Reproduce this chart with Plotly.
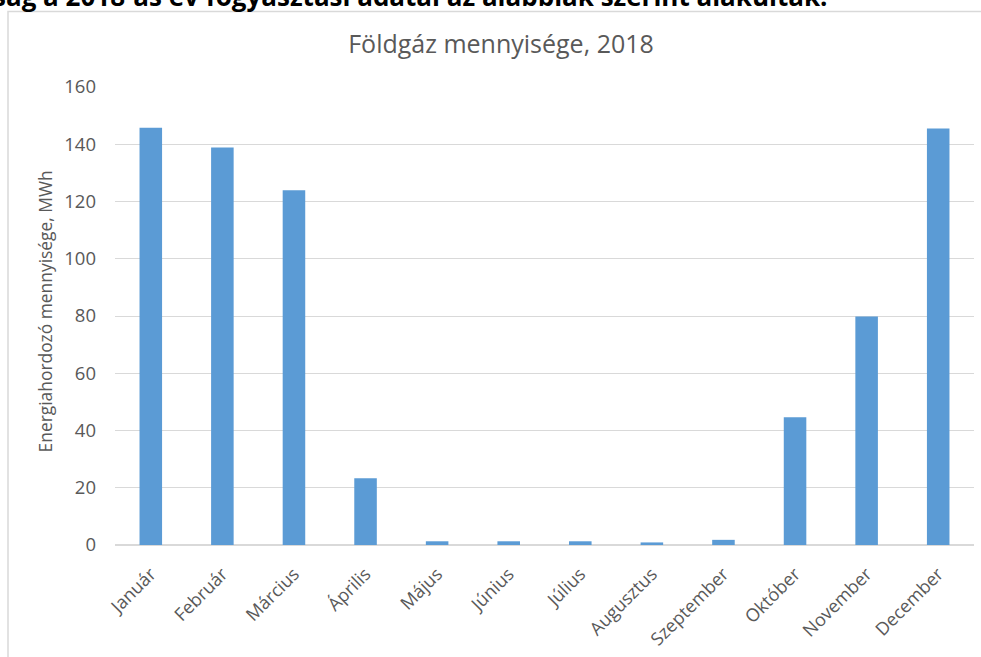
import plotly.graph_objects as go

months = ["Január", "Február", "Március", "Április", "Május", "Június",
          "Július", "Augusztus", "Szeptember", "Október", "November", "December"]
gas_mwh = [145.8, 138.9, 123.9, 23.3, 1.3, 1.3, 1.3, 0.9, 1.8, 44.6, 79.8, 145.5]

chart_title = "Földgáz mennyisége, 2018"
y_title = "Energiahordozó mennyisége, MWh"
top_text = "ság a 2018-as év fogyasztási adatai az alábbiak szerint alakultak."
y_ticks = [0, 20, 40, 60, 80, 100, 120, 140, 160]

FONT = "Open Sans"
GRAY = "#595959"

fig = go.Figure(go.Bar(x=months, y=gas_mwh, marker=dict(color="#5B9BD5", line=dict(width=0))))

fig.update_layout(
    width=981, height=657,
    margin=dict(l=115, r=7, t=87, b=109),
    paper_bgcolor="white", plot_bgcolor="white",
    bargap=0.685,
    showlegend=False,
    font=dict(family=FONT, color=GRAY),
    title=dict(text=chart_title, x=501 / 981, xref="container", xanchor="center",
               y=1 - 44 / 657, yanchor="middle",
               font=dict(family=FONT, size=25, color=GRAY)),
)

fig.update_xaxes(tickangle=-45, tickfont=dict(size=18, color=GRAY, family=FONT),
                 showgrid=False, showline=False, ticks="", ticklabelstandoff=14)
fig.update_yaxes(range=[0, 160], tickvals=y_ticks, tickfont=dict(size=18.5, color=GRAY, family=FONT),
                 gridcolor="#D9D9D9", gridwidth=1.3, zeroline=True, zerolinecolor="#D9D9D9",
                 zerolinewidth=2, showline=False, ticks="", ticklabelstandoff=18)

fig.add_annotation(text=y_title, textangle=-90, xref="paper", yref="paper",
                   x=(45 - 115) / 859, y=0.51, xanchor="center", yanchor="middle",
                   showarrow=False, font=dict(family=FONT, size=17.4, color=GRAY))

fig.add_annotation(text="<b>" + top_text + "</b>", xref="paper", yref="paper",
                   x=(-9 - 115) / 859, y=1 + (87 - 16) / 461, xanchor="left", yanchor="bottom",
                   showarrow=False, font=dict(family=FONT, size=26, color="black"))

fig.add_shape(type="rect", xref="paper", yref="paper",
              x0=(8 - 115) / 859, x1=(1000 - 115) / 859,
              y0=(548 - 670) / 461, y1=1 + (87 - 11) / 461,
              line=dict(color="#D9D9D9", width=1.5), fillcolor="rgba(0,0,0,0)", layer="below")

fig.write_html("out.html", config={"displayModeBar": False},
               post_script="document.body.style.margin='0';document.body.style.overflow='hidden';")
